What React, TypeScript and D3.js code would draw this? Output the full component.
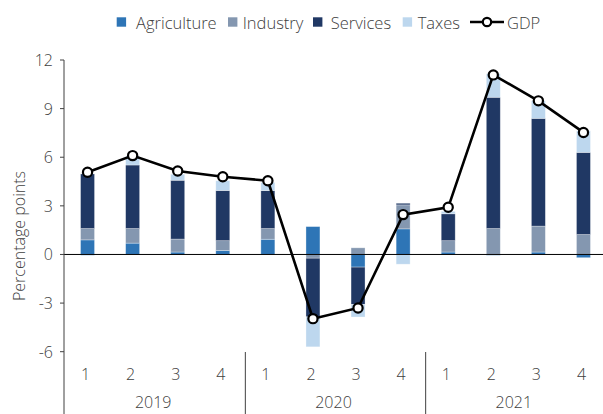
import React from "react";
import * as d3 from "d3";

const quarters = ["1", "2", "3", "4", "1", "2", "3", "4", "1", "2", "3", "4"];
const years = ["2019", "2020", "2021"];
const seriesNames = ["Agriculture", "Industry", "Services", "Taxes"];
const agriculture = [0.9, 0.7, 0.15, 0.25, 0.94, 1.72, -0.78, 1.58, 0.15, -0.05, 0.15, -0.2];
const industry = [0.7, 0.9, 0.8, 0.6, 0.66, -0.23, 0.41, 1.48, 0.7, 1.6, 1.6, 1.23];
const services = [3.37, 3.92, 3.63, 3.1, 2.34, -3.62, -2.3, 0.1, 1.66, 8.1, 6.65, 5.07];
const taxes = [-0.08, 0.55, 0.37, 0.6, 0.5, -1.85, -0.78, -0.6, 0.15, 1.45, 1.08, 1.33];
const gdp = [5.07, 6.1, 5.15, 4.8, 4.55, -3.96, -3.3, 2.46, 2.91, 11.08, 9.48, 7.53];
const yTicks = [-6, -3, 0, 3, 6, 9, 12];
const colors = ["#2E75B6", "#8497B0", "#203864", "#BDD7EE"];

const W = 603;
const H = 414;
const FONT = "'Open Sans', sans-serif";
const TXT = "#404040";

export default function App() {
  const x0 = 65;
  const x1 = 606;
  const idx = quarters.map((_, i) => i);
  const x = d3.scaleBand<number>().domain(idx).range([x0, x1]).paddingInner(0).paddingOuter(0);
  const y = d3.scaleLinear().domain([-6, 12]).range([351.7, 60]);
  const barW = x.bandwidth() * 0.31;

  const table = idx.map((i) => ({
    Agriculture: agriculture[i],
    Industry: industry[i],
    Services: services[i],
    Taxes: taxes[i],
  }));
  const stacked = d3
    .stack<any>()
    .keys(seriesNames)
    .offset(d3.stackOffsetDiverging)(table);

  const cx = (i: number) => (x(i) as number) + x.bandwidth() / 2;
  const line = d3
    .line<number>()
    .x((_, i) => cx(i))
    .y((d) => y(d));

  const axisX = 64;
  const legendItems = [
    { sx: 116.7, tx: 136, name: "Agriculture", c: colors[0] },
    { sx: 228, tx: 242.7, name: "Industry", c: colors[1] },
    { sx: 313, tx: 330.7, name: "Services", c: colors[2] },
    { sx: 402.7, tx: 417.7, name: "Taxes", c: colors[3] },
  ];

  return (
    <svg
      width={W}
      height={H}
      style={{ position: "absolute", left: 0, top: 0, background: "#fff" }}
      fontFamily={FONT}
    >
      {/* bars */}
      {stacked.map((s, si) => (
        <g key={s.key} fill={colors[si]}>
          {s.map((d, i) => {
            const top = y(Math.max(d[0], d[1]));
            const bot = y(Math.min(d[0], d[1]));
            return (
              <rect
                key={i}
                x={cx(i) - barW / 2}
                y={top}
                width={barW}
                height={Math.max(0, bot - top)}
                stroke="#ffffff"
                strokeOpacity={0.45}
                strokeWidth={0.7}
              />
            );
          })}
        </g>
      ))}

      {/* zero line */}
      <line x1={axisX} x2={W} y1={y(0)} y2={y(0)} stroke="#000" strokeWidth={1} />

      {/* y axis */}
      <line x1={axisX} x2={axisX} y1={y(12)} y2={H} stroke="#404040" strokeWidth={1} />
      {yTicks.map((t) => (
        <g key={t}>
          <line x1={axisX - 4} x2={axisX} y1={y(t)} y2={y(t)} stroke="#404040" />
          <text
            x={53}
            y={y(t)}
            textAnchor="end"
            dominantBaseline="central"
            fontSize={16}
            fill={TXT}
            fontWeight={300}
          >
            {t}
          </text>
        </g>
      ))}
      <text
        transform={`translate(25,236) rotate(-90)`}
        textAnchor="middle"
        fontSize={16}
        fill={TXT}
        fontWeight={300}
      >
        Percentage points
      </text>

      {/* x axis labels */}
      {quarters.map((q, i) => (
        <text
          key={i}
          x={cx(i) - 2}
          y={373.5}
          textAnchor="middle"
          dominantBaseline="central"
          fontSize={16}
          fill={TXT}
          fontWeight={300}
        >
          {q}
        </text>
      ))}
      {years.map((yr, k) => {
        const start = x(k * 4) as number;
        return (
          <g key={yr}>
            <text
              x={start + x.bandwidth() * 2 - 2}
              y={402}
              textAnchor="middle"
              dominantBaseline="central"
              fontSize={16}
              fill={TXT}
              fontWeight={300}
            >
              {yr}
            </text>
            {k > 0 && (
              <line x1={start} x2={start} y1={352} y2={H} stroke="#404040" strokeWidth={1} />
            )}
          </g>
        );
      })}

      {/* GDP line */}
      <path d={line(gdp) || ""} fill="none" stroke="#000" strokeWidth={2.6} />
      {gdp.map((v, i) => (
        <circle key={i} cx={cx(i)} cy={y(v)} r={4.6} fill="#fff" stroke="#000" strokeWidth={2.2} />
      ))}

      {/* legend */}
      {legendItems.map((it) => (
        <g key={it.name}>
          <rect x={it.sx} y={17.3} width={9.4} height={9.4} fill={it.c} />
          <text x={it.tx} y={22} dominantBaseline="central" fontSize={16.5} fill={TXT} fontWeight={300}>
            {it.name}
          </text>
        </g>
      ))}
      <line x1={470} x2={504} y1={22} y2={22} stroke="#000" strokeWidth={2.6} />
      <circle cx={487} cy={22} r={4.2} fill="#fff" stroke="#000" strokeWidth={2.2} />
      <text x={507} y={22} dominantBaseline="central" fontSize={16.5} fill={TXT} fontWeight={300}>
        GDP
      </text>
    </svg>
  );
}
